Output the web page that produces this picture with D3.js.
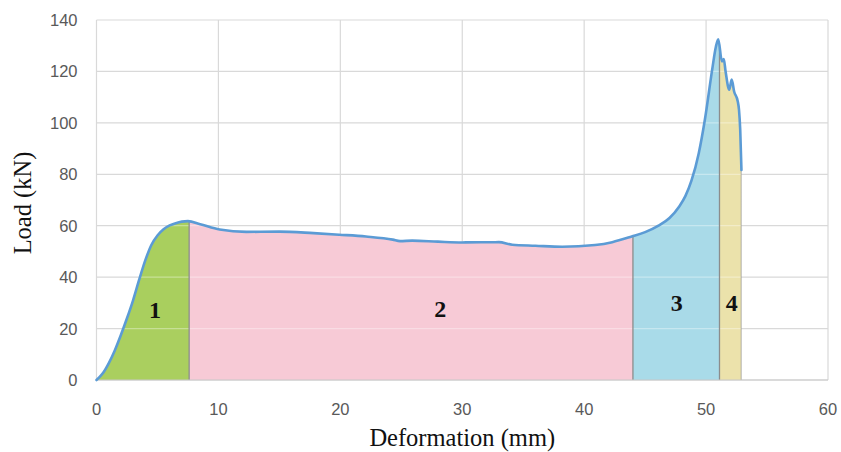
<!DOCTYPE html>
<html>
<head>
<meta charset="utf-8">
<script src="https://cdn.jsdelivr.net/npm/d3@7"></script>
<style>
  html, body { margin: 0; padding: 0; background: #ffffff; }
  svg { display: block; }
</style>
</head>
<body>
<svg id="chart" width="841" height="452"></svg>
<script>
// Load–deformation record (mm, kN)
const deformation = [0, 0.5, 1.0, 1.5, 2.0, 2.5, 3.0, 3.5, 4.0, 4.5, 5.0, 5.5, 6.0, 6.5, 7.0, 7.5,
  8.5, 10.1, 12.3, 15.0, 17.8, 19.9, 22.1, 24.3, 24.9, 25.9, 28.0, 30.0, 33.0, 34.1, 36.0, 38.2,
  40.9, 42.3, 43.9, 45.0, 46.1, 47.0, 47.8, 48.3, 48.8, 49.4, 49.9, 50.5, 50.8, 51.0,
  51.3, 51.45, 51.6, 51.9, 52.1, 52.3, 52.6, 52.7, 52.8, 52.9];
const load = [0, 2.5, 6.5, 11.5, 17.5, 24, 31, 39, 46.5, 52.5, 56.2, 58.6, 60.1, 61.0, 61.6, 61.8,
  60.6, 58.5, 57.6, 57.7, 57.1, 56.5, 55.8, 54.6, 54.0, 54.2, 53.8, 53.5, 53.6, 52.6, 52.2, 51.8,
  52.5, 53.6, 55.8, 57.5, 60.0, 63.0, 67.5, 71.5, 77.5, 88.2, 101.2, 120.7, 129.5, 132.5,
  123.9, 124.8, 120.0, 112.9, 116.8, 112.2, 108.3, 105.1, 97.3, 81.7];

// Deformation stages
const stageBounds = [0, 7.6, 44.0, 51.1, 52.9];
const stageNames = ["1", "2", "3", "4"];
const stageColors = ["#aacf5f", "#f7cad6", "#a9dbe9", "#ece2ab"];
const stageLabelX = [4.8, 28.2, 47.6, 52.1];
const stageLabelY = [27.2, 27.5, 30, 30];

const xTicks = [0, 10, 20, 30, 40, 50, 60];
const yTicks = [0, 20, 40, 60, 80, 100, 120, 140];

const svg = d3.select("#chart");
const W = 841, H = 452;
const margin = { left: 96.5, right: W - 828, top: 20, bottom: H - 380 };

const x = d3.scaleLinear().domain([0, 60]).range([margin.left, W - margin.right]);
const y = d3.scaleLinear().domain([0, 140]).range([H - margin.bottom, margin.top]);

const pts = deformation.map((d, i) => [d, load[i]]);
const gridColor = "#d9d9d9";

// Gridlines
svg.append("g").selectAll("line").data(yTicks).join("line")
  .attr("x1", x(0)).attr("x2", x(60))
  .attr("y1", d => y(d)).attr("y2", d => y(d))
  .attr("stroke", gridColor).attr("stroke-width", 1.2);
svg.append("g").selectAll("line").data(xTicks).join("line")
  .attr("x1", d => x(d)).attr("x2", d => x(d))
  .attr("y1", y(0)).attr("y2", y(140))
  .attr("stroke", gridColor).attr("stroke-width", 1.2);

const curve = d3.curveMonotoneX;
const area = d3.area().x(d => x(d[0])).y0(y(0)).y1(d => y(d[1])).curve(curve);
const line = d3.line().x(d => x(d[0])).y(d => y(d[1])).curve(curve);

const defs = svg.append("defs");
defs.append("clipPath").attr("id", "under-curve")
  .append("path").attr("d", area(pts));

stageNames.forEach((s, i) => {
  defs.append("clipPath").attr("id", "stage-" + i)
    .append("rect")
    .attr("x", x(stageBounds[i])).attr("width", x(stageBounds[i + 1]) - x(stageBounds[i]))
    .attr("y", y(140)).attr("height", y(0) - y(140));
});

// Stage fills
svg.append("g").selectAll("path").data(stageNames).join("path")
  .attr("d", area(pts))
  .attr("fill", (d, i) => stageColors[i])
  .attr("clip-path", (d, i) => `url(#stage-${i})`);

// Faint gridlines showing through the fills
svg.append("g").attr("clip-path", "url(#under-curve)").attr("opacity", 0.35)
  .selectAll("line").data(yTicks.slice(1)).join("line")
  .attr("x1", x(0)).attr("x2", x(60))
  .attr("y1", d => y(d)).attr("y2", d => y(d))
  .attr("stroke", "#ffffff").attr("stroke-width", 1.2);

// Stage dividers
svg.append("g").attr("clip-path", "url(#under-curve)")
  .selectAll("line").data(stageBounds.slice(1)).join("line")
  .attr("x1", d => x(d)).attr("x2", d => x(d))
  .attr("y1", y(0)).attr("y2", y(140))
  .attr("stroke", "#8c8c8c").attr("stroke-width", 1.3);

// Bottom baseline
svg.append("line")
  .attr("x1", x(0)).attr("x2", x(60)).attr("y1", y(0)).attr("y2", y(0))
  .attr("stroke", "#c8c8c8").attr("stroke-width", 1.2);

// Load curve
svg.append("path").attr("d", line(pts))
  .attr("fill", "none").attr("stroke", "#5b9bd5")
  .attr("stroke-width", 2.6).attr("stroke-linejoin", "round").attr("stroke-linecap", "round");

// Stage numbers
svg.append("g").selectAll("text").data(stageNames).join("text")
  .attr("x", (d, i) => x(stageLabelX[i]))
  .attr("y", (d, i) => y(stageLabelY[i]))
  .attr("text-anchor", "middle").attr("dominant-baseline", "central")
  .attr("font-family", "'Liberation Serif', 'Times New Roman', serif")
  .attr("font-weight", "bold").attr("font-size", 24).attr("fill", "#111")
  .text(d => d);

// Tick labels
const tickFont = "'Liberation Sans', Arial, sans-serif";
svg.append("g").selectAll("text").data(yTicks).join("text")
  .attr("x", x(0) - 19).attr("y", d => y(d))
  .attr("text-anchor", "end").attr("dominant-baseline", "central")
  .attr("font-family", tickFont).attr("font-size", 16.5).attr("fill", "#595959")
  .text(d => d);
svg.append("g").selectAll("text").data(xTicks).join("text")
  .attr("x", d => x(d)).attr("y", y(0) + 29)
  .attr("text-anchor", "middle").attr("dominant-baseline", "central")
  .attr("font-family", tickFont).attr("font-size", 16.5).attr("fill", "#595959")
  .text(d => d);

// Axis titles
svg.append("text")
  .attr("x", (x(0) + x(60)) / 2).attr("y", 437)
  .attr("text-anchor", "middle").attr("dominant-baseline", "central")
  .attr("font-family", "'Liberation Serif', 'Times New Roman', serif")
  .attr("font-size", 24.5).attr("fill", "#111")
  .text("Deformation (mm)");
svg.append("text")
  .attr("transform", `translate(22, ${(y(0) + y(140)) / 2 + 3}) rotate(-90)`)
  .attr("text-anchor", "middle").attr("dominant-baseline", "central")
  .attr("font-family", "'Liberation Serif', 'Times New Roman', serif")
  .attr("font-size", 24.5).attr("fill", "#111")
  .text("Load (kN)");
</script>
</body>
</html>
